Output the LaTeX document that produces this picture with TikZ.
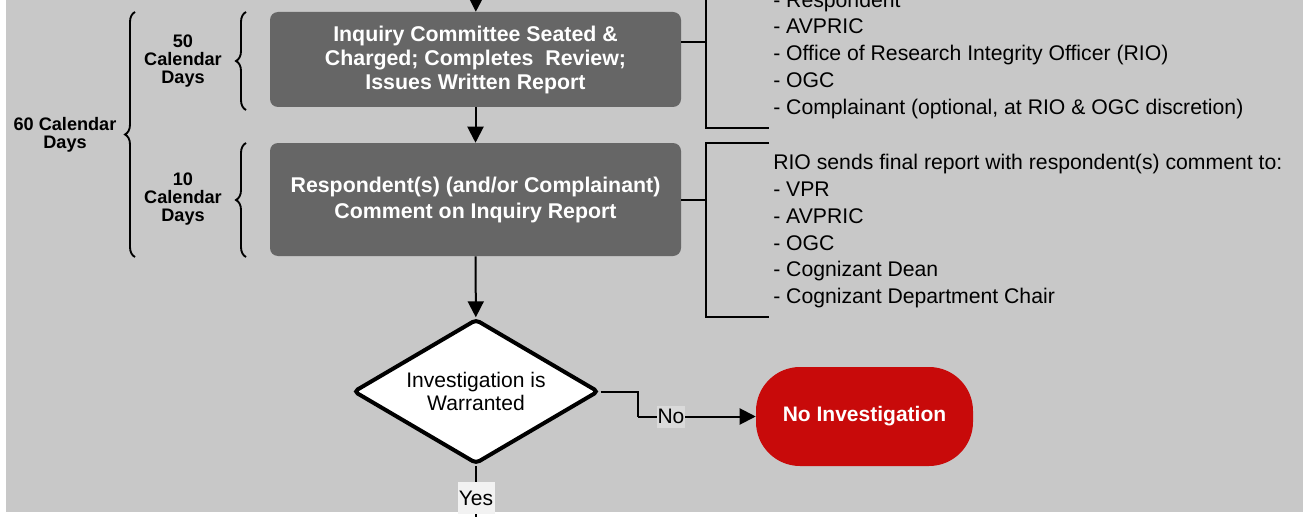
\documentclass[tikz,border=0pt]{standalone}
\usepackage{fontspec}
\setmainfont{Liberation Sans}
\usetikzlibrary{arrows.meta,shapes.geometric,decorations.pathreplacing}
\definecolor{bgc}{HTML}{C8C8C8}
\definecolor{boxc}{HTML}{666666}
\definecolor{redc}{HTML}{C80A0A}
\definecolor{nobg}{HTML}{DADADA}
\definecolor{yesbg}{HTML}{F2F2F2}
\begin{document}
\begin{tikzpicture}[x=0.75pt,y=-0.75pt,
  procbox/.style={fill=boxc, rounded corners=6pt, minimum width=308.25pt, text=white, align=center, font=\fontsize{16}{18}\selectfont\bfseries, inner sep=0pt},
  decbox/.style={shape=diamond, shape aspect=1.7, draw=black, fill=white, line width=3pt, rounded corners=3pt, minimum width=184pt, minimum height=108.5pt, align=center, font=\fontsize{15.8}{17.3}\selectfont, inner sep=0pt},
  termbox/.style={fill=redc, rounded corners=33pt, minimum width=162.75pt, minimum height=74.25pt, text=white, font=\fontsize{15.75}{18}\selectfont\bfseries, inner sep=0pt},
  conn/.style={line width=1.5pt},
  arr/.style={conn,-{Triangle[length=12pt,width=12pt]}},
  bracketline/.style={line width=1.6pt},
  bracestyle/.style={line width=1.4pt, decorate, decoration={brace, amplitude=7.5pt}},
  bracelabel/.style={align=center, font=\fontsize{13.6}{13.5}\selectfont\bfseries, inner sep=0pt},
  listtext/.style={anchor=base west, inner sep=0pt, font=\fontsize{15.9}{20}\selectfont},
  nolabel/.style={fill=nobg, inner sep=0.5pt, minimum height=16.5pt, font=\fontsize{15.75}{18}\selectfont},
  yeslabel/.style={fill=yesbg, inner sep=0pt, minimum height=24pt, minimum width=27.75pt, font=\fontsize{15.75}{18}\selectfont}
]
\useasboundingbox (0,0) rectangle (1303,517);
\fill[white] (0,0) rectangle (1303,517);
\fill[bgc] (6,0) rectangle (1303,512);

% process boxes
\node[procbox, minimum height=71.25pt] (box1) at (475.5,59.5) {Inquiry Committee Seated \&\\Charged; Completes\ \ Review;\\Issues Written Report};
\node[procbox, minimum height=84.75pt, font=\fontsize{16}{19.5}\selectfont\bfseries] (box2) at (475.5,199.5) {Respondent(s) (and/or Complainant)\\Comment on Inquiry Report};

% decision
\node[decbox] (dec) at (476,391.5) {Investigation is\\Warranted};

% terminal
\node[termbox] (noinv) at (864.5,416.5) {No Investigation};

% arrows
\coordinate (topin) at (476,-12);
\draw[arr] (topin) -- (box1);
\draw[arr] (box1) -- (box2);
\draw[arr] (box2) -- (dec);
\coordinate (nobend) at (638,416.5);
\draw[conn] (dec.east) -| (nobend);
\draw[arr] (nobend) -- node[nolabel, pos=0.28] (nolab) {No} (noinv.west);
\coordinate (yesend) at (476,530);
\draw[conn] (dec.south) -- node[yeslabel, pos=0.5] (yeslab) {Yes} (yesend);

% brackets on the right
\coordinate (b1top) at (706,-12);
\coordinate (b1c) at (706,42);
\coordinate (b1bot) at (706,128);
\coordinate (b1end) at (769,128);
\draw[bracketline] (box1.east |- b1c) -- (b1c);
\draw[bracketline] (b1top) -- (b1bot) -- (b1end);

\coordinate (b2ts) at (769,143);
\coordinate (b2top) at (706,143);
\coordinate (b2c) at (706,200);
\coordinate (b2bot) at (706,317);
\coordinate (b2end) at (769,317);
\draw[bracketline] (box2.east |- b2c) -- (b2c);
\draw[bracketline] (b2ts) -- (b2top) -- (b2bot) -- (b2end);

% lists
\foreach \t [count=\i from 0] in {{- Respondent},{- AVPRIC},{- Office of Research Integrity Officer (RIO)},{- OGC},{- Complainant (optional, at RIO \& OGC discretion)}}
  \node[listtext] (la\i) at (773,{7.3+26.7*\i}) {\t};
\foreach \t [count=\i from 0] in {{RIO sends final report with respondent(s) comment to:},{- VPR},{- AVPRIC},{- OGC},{- Cognizant Dean},{- Cognizant Department Chair}}
  \node[listtext] (lb\i) at (773,{169.8+26.75*\i}) {\t};

% braces on the left
\coordinate (ob1) at (135,257);
\coordinate (ob2) at (135,12);
\draw[bracestyle] (ob1) -- (ob2);
\coordinate (ib1a) at (246,110);
\coordinate (ib1b) at (246,12);
\draw[bracestyle] (ib1a) -- (ib1b);
\coordinate (ib2a) at (246,257);
\coordinate (ib2b) at (246,143);
\draw[bracestyle] (ib2a) -- (ib2b);

\node[bracelabel] (l60) at (65,135) {60 Calendar\\Days};
\node[bracelabel] (l50) at (183,61) {50\\Calendar\\Days};
\node[bracelabel] (l10) at (183,199) {10\\Calendar\\Days};
\end{tikzpicture}
\end{document}
